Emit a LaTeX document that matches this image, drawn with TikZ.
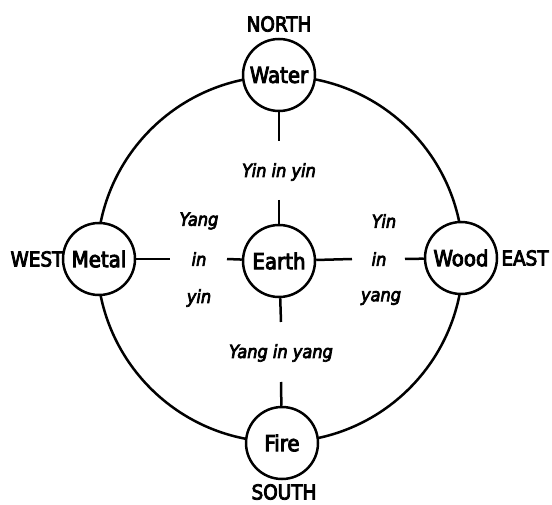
\documentclass[tikz,border=0pt]{standalone}
\usepackage{fontspec}
\setmainfont{DejaVu Sans Condensed}
\newfontfamily\semib{DejaVu Sans Condensed}[FakeBold=4]
\begin{document}
\begin{tikzpicture}[x=1pt,y=-1pt,line width=2.5pt,
  elem/.style={circle,draw,fill=white,minimum size=72pt,inner sep=0pt,font=\semib\fontsize{22}{24}\selectfont},
  lbl/.style={inner sep=0pt,font=\semib\fontsize{18}{20}\selectfont\itshape},
  compass/.style={inner sep=0pt,font=\semib\fontsize{20.5}{22}\selectfont}]
\useasboundingbox (0,0) rectangle (552,505);
\coordinate (c) at (280,259);
\draw (c) circle [radius=183];
% element nodes
\node[elem] (earth) at (279,261) {Earth};
\node[elem] (water) at (279,75) {Water};
\node[elem] (fire)  at (282,443) {Fire};
\node[elem] (metal) at (99,259) {Metal};
\node[elem] (wood)  at (461,258) {Wood};
% compass labels
\node[compass] (north) at (279,24) {NORTH};
\node[compass] (south) at (284,492) {SOUTH};
\node[compass] (west)  at (37,259) {WEST};
\node[compass] (east)  at (525,258) {EAST};
% yin/yang labels
\node[lbl] (ltop) at (279,172) {Yin in yin};
\node[lbl] (lbot) at (281,353) {Yang in yang};
\node[lbl] (lyang) at (199,221) {Yang};
\node[lbl] (lin1)  at (199,259) {in};
\node[lbl] (lyin1) at (199,298) {yin};
\node[lbl] (lyin2) at (384,221) {Yin};
\node[lbl] (lin2)  at (379,259) {in};
\node[lbl] (lyang2) at (381,298) {yang};
% connector ends
\coordinate (t1) at (279,141);
\coordinate (t2) at (279,200);
\coordinate (b1) at (281,322);
\coordinate (b2) at (281,382);
\coordinate (l1) at (170,259);
\coordinate (l2) at (227,259);
\coordinate (r1) at (352,259);
\coordinate (r2) at (405,259);
\draw (water) -- (t1);
\draw (t2) -- (earth);
\draw (earth) -- (b1);
\draw (b2) -- (fire);
\draw (metal) -- (l1);
\draw (l2) -- (earth);
\draw (earth) -- (r1);
\draw (r2) -- (wood);
\end{tikzpicture}
\end{document}
